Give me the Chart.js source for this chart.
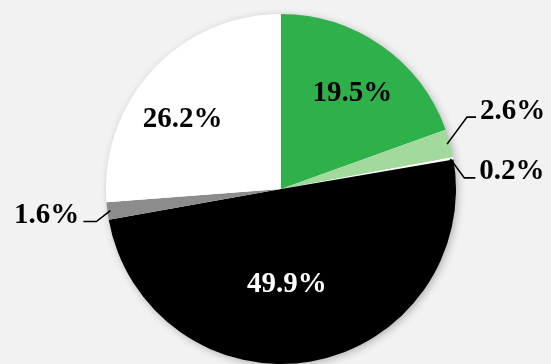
<!DOCTYPE html>
<html>
<head>
<meta charset="utf-8">
<script src="https://cdn.jsdelivr.net/npm/chart.js@4/dist/chart.umd.min.js"></script>
<style>
  html, body { margin: 0; padding: 0; background: #f2f2f2; }
  #wrap { width: 551px; height: 364px; }
</style>
</head>
<body>
<div id="wrap"><canvas id="c" width="551" height="364"></canvas></div>
<script>
// ---- data ----
const categories = ['Green', 'Light green', 'White (small)', 'Black', 'Gray', 'White'];
const values = [19.5, 2.6, 0.2, 49.9, 1.6, 26.2];
const labelTexts = ['19.5%', '2.6%', '0.2%', '49.9%', '1.6%', '26.2%'];
const sliceColors = ['#2eb04b', '#a2d99c', '#ffffff', '#000000', '#8c8c8c', '#ffffff'];

// ---- label placement styles (not data) ----
const labelStyles = [
  { inside: true, f: 0.68, bias: 1.7, color: '#000' },
  { inside: false, dx: 20, dy: -27, len: 9, side: 1, ty: 2 },
  { inside: false, dx: 14, dy: 19, len: 11, side: 1, ty: 1 },
  { inside: true, f: 0.545, bias: 6.3, color: '#fff' },
  { inside: false, dx: -14, dy: 11, len: 13, side: -1, ty: 1 },
  { inside: true, f: 0.69, bias: -7.5, color: '#000' }
];

const shadowPlugin = {
  id: 'pieShadow',
  beforeDatasetsDraw(chart) {
    const meta = chart.getDatasetMeta(0);
    if (!meta.data.length) return;
    const a = meta.data[0];
    const ctx = chart.ctx;
    ctx.save();
    ctx.shadowColor = 'rgba(0,0,0,0.28)';
    ctx.shadowBlur = 8;
    ctx.shadowOffsetX = 2;
    ctx.shadowOffsetY = 2;
    ctx.fillStyle = '#ffffff';
    ctx.beginPath();
    ctx.arc(a.x, a.y, a.outerRadius - 0.5, 0, Math.PI * 2);
    ctx.fill();
    ctx.restore();
  }
};

const labelPlugin = {
  id: 'sliceLabels',
  afterDatasetsDraw(chart) {
    const ctx = chart.ctx;
    const meta = chart.getDatasetMeta(0);
    ctx.save();
    ctx.font = 'bold 29px "Liberation Serif", "Times New Roman", serif';
    meta.data.forEach((arc, i) => {
      const p = arc.getProps(['x', 'y', 'startAngle', 'endAngle', 'outerRadius'], true);
      const st = labelStyles[i];
      const mid = (p.startAngle + p.endAngle) / 2 + (st.bias || 0) * Math.PI / 180;
      const text = labelTexts[i];
      if (st.inside) {
        const r = p.outerRadius * st.f;
        ctx.fillStyle = st.color;
        ctx.textAlign = 'center';
        ctx.textBaseline = 'middle';
        ctx.fillText(text, p.x + Math.cos(mid) * r, p.y + Math.sin(mid) * r);
      } else {
        const ex = p.x + Math.cos(mid) * (p.outerRadius - 3);
        const ey = p.y + Math.sin(mid) * (p.outerRadius - 3);
        const bx = ex + st.dx, by = ey + st.dy;
        const hx = bx + st.len * st.side;
        ctx.strokeStyle = '#000';
        ctx.lineWidth = 1.6;
        ctx.beginPath();
        ctx.moveTo(ex, ey);
        ctx.lineTo(bx, by);
        ctx.lineTo(hx, by);
        ctx.stroke();
        ctx.fillStyle = '#000';
        ctx.textBaseline = 'alphabetic';
        ctx.textAlign = st.side > 0 ? 'left' : 'right';
        ctx.fillText(text, hx + 4 * st.side, by + st.ty);
      }
    });
    ctx.restore();
  }
};

new Chart(document.getElementById('c'), {
  type: 'pie',
  data: {
    labels: categories,
    datasets: [{
      data: values,
      backgroundColor: sliceColors,
      borderWidth: 0
    }]
  },
  options: {
    responsive: false,
    animation: false,
    layout: { padding: { left: 106, right: 95, top: 14, bottom: 0 } },
    plugins: {
      legend: { display: false },
      tooltip: { enabled: false }
    }
  },
  plugins: [shadowPlugin, labelPlugin]
});
</script>
</body>
</html>
